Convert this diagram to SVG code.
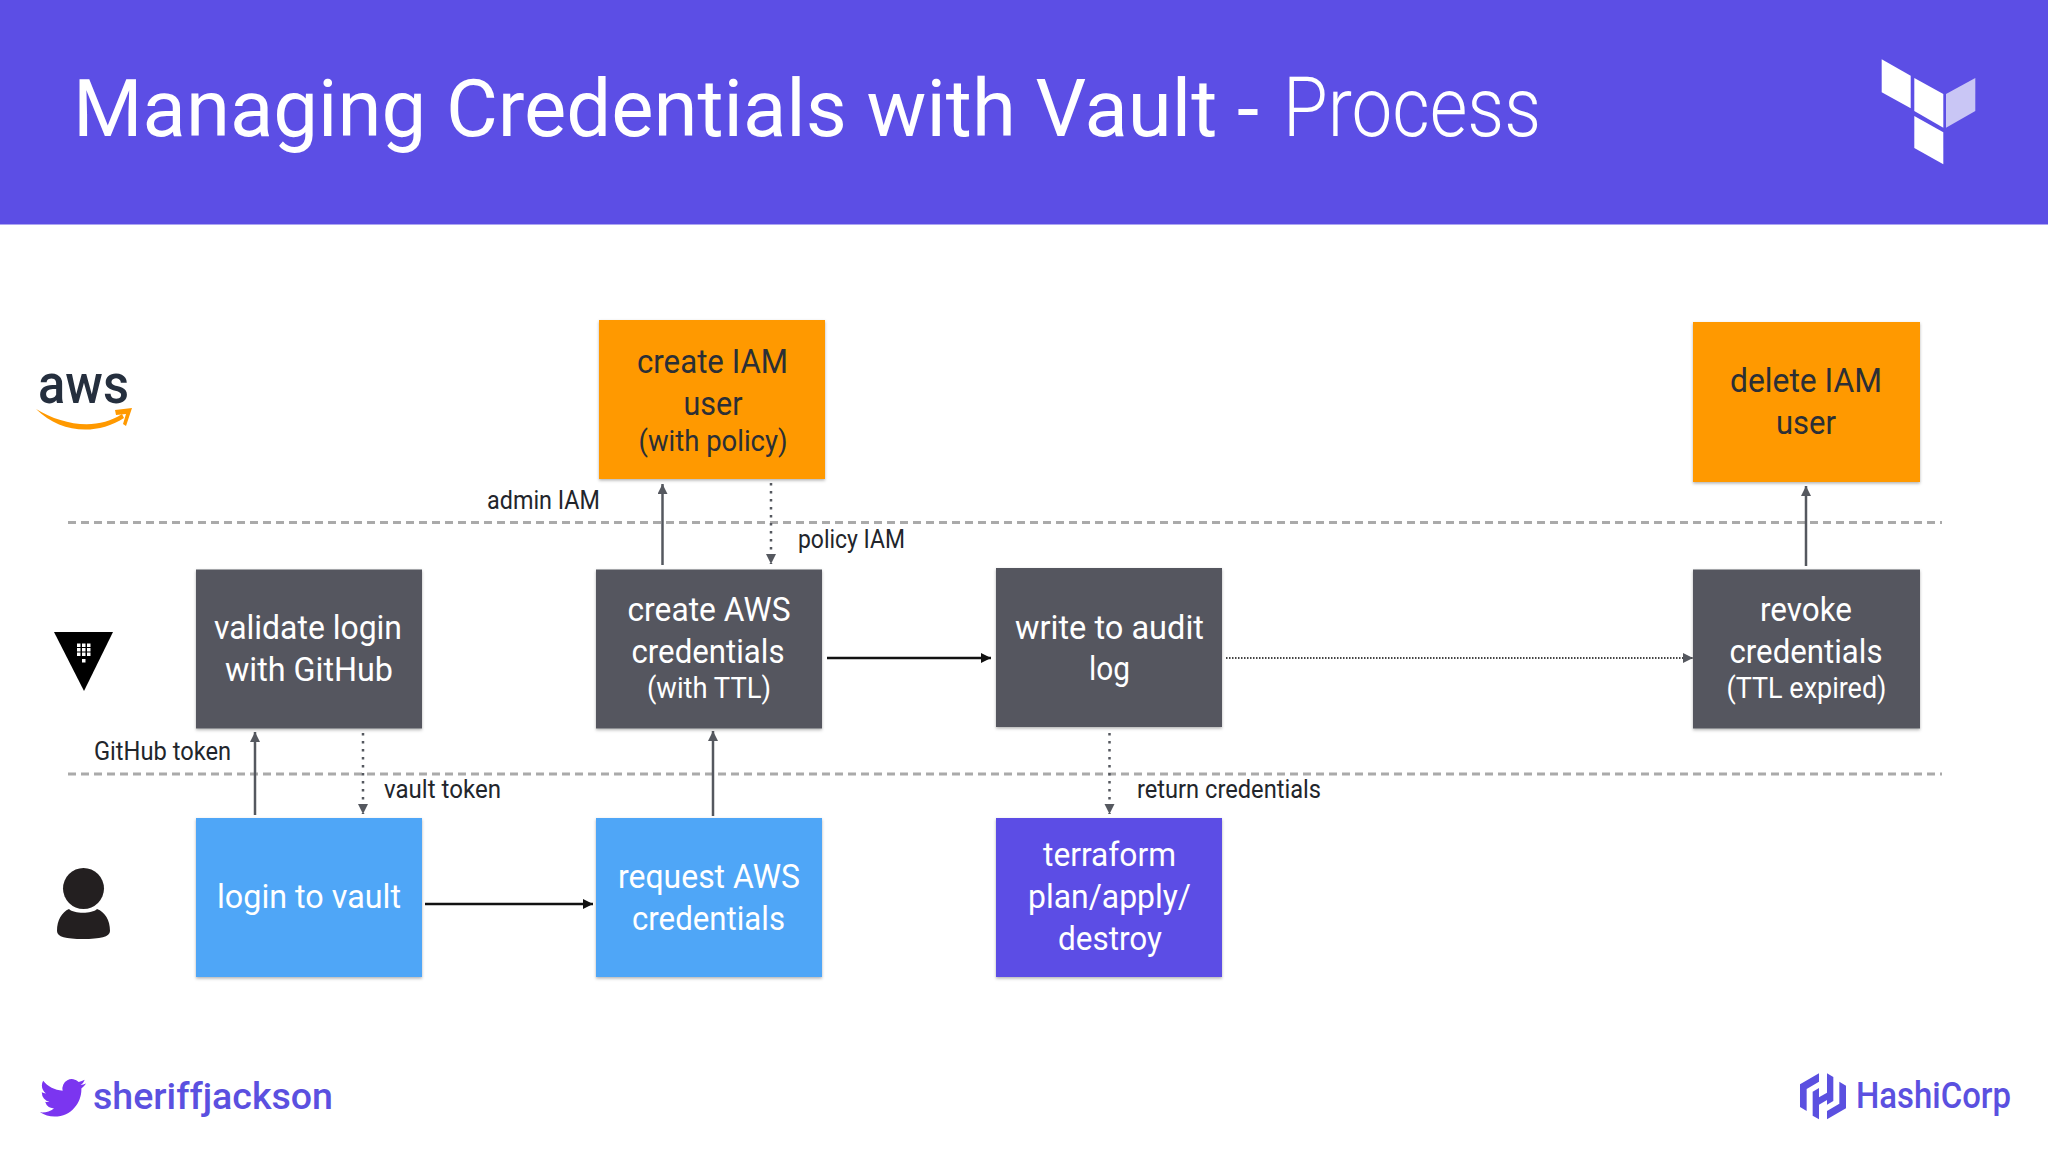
<svg xmlns="http://www.w3.org/2000/svg" width="2048" height="1152" viewBox="0 0 2048 1152">
<style>
text{font-family:"Roboto","Liberation Sans",sans-serif}
.box{filter:url(#sh)}
.t{font-size:33px;fill:#fff;text-anchor:middle;font-weight:400}
.o{fill:#2b2f36;font-weight:400}
.s{font-size:29px}
.lab{font-size:25px;fill:#22252b;font-weight:400}
.sep{stroke:#aaa;stroke-width:3;stroke-dasharray:8 5;fill:none}
.c{stroke:#55585f;stroke-width:2.5;fill:none}
.d{stroke-dasharray:2.5 5.5}
.h{stroke:#111;stroke-width:2.5;fill:none}
.f{stroke:#444;stroke-width:2;stroke-dasharray:1.5 1.5;fill:none}
</style>
<defs>
<filter id="sh" x="-5%" y="-5%" width="110%" height="110%"><feDropShadow dx="0" dy="1.5" stdDeviation="1.5" flood-color="#000" flood-opacity=".3"/></filter>
<marker id="ag" markerUnits="userSpaceOnUse" markerWidth="12" markerHeight="12" refX="10" refY="5" orient="auto"><path d="M0 0L10 5L0 10Z" fill="#55585f"/></marker>
<marker id="ak" markerUnits="userSpaceOnUse" markerWidth="12" markerHeight="12" refX="10" refY="5" orient="auto"><path d="M0 0L10 5L0 10Z" fill="#111"/></marker>
</defs>
<rect width="2048" height="1152" fill="#fff"/>
<rect width="2048" height="224.500" fill="#5c4ee5"/>
<text x="73" y="136" font-size="80" fill="#fff" textLength="1186" lengthAdjust="spacingAndGlyphs">Managing Credentials with Vault -</text>
<text x="1283" y="136" font-size="84" font-weight="300" fill="#fff" textLength="258" lengthAdjust="spacingAndGlyphs">Process</text>
<g id="terraform-logo">
<polygon points="1881.700,59.300 1910.700,75.700 1910.700,108.300 1881.700,92.300" fill="#fff"/>
<polygon points="1914.300,78 1943.300,94 1943.300,127.700 1914.300,111" fill="#fff"/>
<polygon points="1946,94 1975.300,78 1975.300,111 1946,127.700" fill="#c9c6f5"/>
<polygon points="1914.300,116 1943.300,132.300 1943.300,164.300 1914.300,148" fill="#fff"/>
</g>
<g id="separators">
<line class="sep" x1="68" y1="522.500" x2="1942" y2="522.500"/>
<line class="sep" x1="68" y1="774" x2="1942" y2="774"/>
</g>
<g id="connectors">
<line class="c" x1="662.500" y1="565" x2="662.500" y2="484" marker-end="url(#ag)"/>
<line class="c d" x1="771" y1="483" x2="771" y2="564" marker-end="url(#ag)"/>
<line class="c" x1="255" y1="815" x2="255" y2="732" marker-end="url(#ag)"/>
<line class="c d" x1="363" y1="733" x2="363" y2="814" marker-end="url(#ag)"/>
<line class="c" x1="713" y1="816" x2="713" y2="731" marker-end="url(#ag)"/>
<line class="c d" x1="1109.500" y1="733" x2="1109.500" y2="814" marker-end="url(#ag)"/>
<line class="c" x1="1806" y1="566" x2="1806" y2="486" marker-end="url(#ag)"/>
<line class="h" x1="827" y1="658" x2="991" y2="658" marker-end="url(#ak)"/>
<line class="f" x1="1226" y1="658" x2="1693" y2="658" marker-end="url(#ag)"/>
<line class="h" x1="425" y1="904" x2="593" y2="904" marker-end="url(#ak)"/>
</g>
<g id="labels">
<text class="lab" x="487" y="509" textLength="113" lengthAdjust="spacingAndGlyphs">admin IAM</text>
<text class="lab" x="798" y="548" textLength="107" lengthAdjust="spacingAndGlyphs">policy IAM</text>
<text class="lab" x="94" y="760" textLength="137" lengthAdjust="spacingAndGlyphs">GitHub token</text>
<text class="lab" x="384" y="798" textLength="117" lengthAdjust="spacingAndGlyphs">vault token</text>
<text class="lab" x="1137" y="798" textLength="184" lengthAdjust="spacingAndGlyphs">return credentials</text>
</g>
<g id="create-iam-user">
<rect class="box" x="599" y="320" width="226" height="159" fill="#ff9900"/>
<text class="t o" x="712.500" y="373" textLength="151" lengthAdjust="spacingAndGlyphs">create IAM</text>
<text class="t o" x="713" y="415" textLength="59" lengthAdjust="spacingAndGlyphs">user</text>
<text class="t o s" x="713" y="451" textLength="149" lengthAdjust="spacingAndGlyphs">(with policy)</text>
</g>
<g id="delete-iam-user">
<rect class="box" x="1693" y="322" width="227" height="160" fill="#ff9900"/>
<text class="t o" x="1806" y="392" textLength="152" lengthAdjust="spacingAndGlyphs">delete IAM</text>
<text class="t o" x="1806" y="434" textLength="60" lengthAdjust="spacingAndGlyphs">user</text>
</g>
<g id="validate-login">
<rect class="box" x="196" y="569.500" width="226" height="159" fill="#54565e"/>
<text class="t" x="308" y="639" textLength="188" lengthAdjust="spacingAndGlyphs">validate login</text>
<text class="t" x="309" y="681" textLength="168" lengthAdjust="spacingAndGlyphs">with GitHub</text>
</g>
<g id="create-aws-credentials">
<rect class="box" x="596" y="569.500" width="226" height="159" fill="#54565e"/>
<text class="t" x="709" y="621" textLength="163" lengthAdjust="spacingAndGlyphs">create AWS</text>
<text class="t" x="708" y="663" textLength="153" lengthAdjust="spacingAndGlyphs">credentials</text>
<text class="t s" x="709" y="698" textLength="124" lengthAdjust="spacingAndGlyphs">(with TTL)</text>
</g>
<g id="write-audit-log">
<rect class="box" x="996" y="568" width="226" height="159" fill="#54565e"/>
<text class="t" x="1109.500" y="639" textLength="189" lengthAdjust="spacingAndGlyphs">write to audit</text>
<text class="t" x="1109.500" y="680" textLength="41" lengthAdjust="spacingAndGlyphs">log</text>
</g>
<g id="revoke-credentials">
<rect class="box" x="1693" y="569.500" width="227" height="159" fill="#54565e"/>
<text class="t" x="1806" y="621" textLength="92" lengthAdjust="spacingAndGlyphs">revoke</text>
<text class="t" x="1806" y="663" textLength="153" lengthAdjust="spacingAndGlyphs">credentials</text>
<text class="t s" x="1806.500" y="698" textLength="160" lengthAdjust="spacingAndGlyphs">(TTL expired)</text>
</g>
<g id="login-to-vault">
<rect class="box" x="196" y="818" width="226" height="159" fill="#4fa6f7"/>
<text class="t" x="309" y="908" textLength="184" lengthAdjust="spacingAndGlyphs">login to vault</text>
</g>
<g id="request-aws-credentials">
<rect class="box" x="596" y="818" width="226" height="159" fill="#4fa6f7"/>
<text class="t" x="709" y="888" textLength="182" lengthAdjust="spacingAndGlyphs">request AWS</text>
<text class="t" x="708.500" y="930" textLength="153" lengthAdjust="spacingAndGlyphs">credentials</text>
</g>
<g id="terraform-plan">
<rect class="box" x="996" y="818" width="226" height="159" fill="#5c4ee5"/>
<text class="t" x="1109.500" y="866" textLength="133" lengthAdjust="spacingAndGlyphs">terraform</text>
<text class="t" x="1109.500" y="908" textLength="163" lengthAdjust="spacingAndGlyphs">plan/apply/</text>
<text class="t" x="1110" y="950" textLength="104" lengthAdjust="spacingAndGlyphs">destroy</text>
</g>
<g id="aws-logo">
<text x="38" y="403" font-size="56" font-weight="500" fill="#252f3e" textLength="91" lengthAdjust="spacingAndGlyphs">aws</text>
<path d="M36 409C62 425 97 431 122 414L124 418C96 436 60 433 36 409Z" fill="#ff9900"/>
<path d="M115 410L132 408L126 426L123 424L126 414L116 415Z" fill="#ff9900"/>
</g>
<g id="vault-logo">
<polygon points="54,632 113,632 84,691" fill="#000"/>
<g fill="#fff">
<rect x="77" y="643.500" width="3.500" height="3.500"/><rect x="82" y="643.500" width="3.500" height="3.500"/><rect x="87" y="643.500" width="3.500" height="3.500"/>
<rect x="77" y="648" width="3.500" height="3.500"/><rect x="82" y="648" width="3.500" height="3.500"/><rect x="87" y="648" width="3.500" height="3.500"/>
<rect x="77" y="652.500" width="3.500" height="3.500"/><rect x="82" y="652.500" width="3.500" height="3.500"/><rect x="87" y="652.500" width="3.500" height="3.500"/>
<rect x="82" y="659" width="3.500" height="3.500"/>
</g>
</g>
<g id="user-icon" fill="#231f20">
<circle cx="83.500" cy="888.500" r="20.500"/>
<path d="M69 909C74 914 92 914 97 909C105 912 110 920 110 931C110 937 100 939 83 939C66 939 57 937 57 931C57 920 62 912 69 909Z"/>
</g>
<g id="twitter-handle">
<path transform="translate(40 1074.800) scale(1.920)" fill="#7b35f0" d="M23.953 4.570a10 10 0 01-2.825.775 4.958 4.958 0 002.163-2.723c-.951.555-2.005.959-3.127 1.184a4.920 4.920 0 00-8.384 4.482C7.690 8.095 4.067 6.130 1.640 3.162a4.822 4.822 0 00-.666 2.475c0 1.710.870 3.213 2.188 4.096a4.904 4.904 0 01-2.228-.616v.060a4.923 4.923 0 003.946 4.827 4.996 4.996 0 01-2.212.085 4.936 4.936 0 004.604 3.417 9.867 9.867 0 01-6.102 2.105c-.390 0-.779-.023-1.170-.067a13.995 13.995 0 007.557 2.209c9.053 0 13.998-7.496 13.998-13.985 0-.210 0-.420-.015-.630A9.935 9.935 0 0024 4.590z"/>
<text x="93" y="1109" font-size="37" font-weight="500" fill="#5b50e0" textLength="240" lengthAdjust="spacingAndGlyphs">sheriffjackson</text>
</g>
<g id="hashicorp-logo">
<g transform="translate(1780 1060) scale(.3333)" fill="#5b50e0">
<polygon points="60,73 117,40 117,65 80,87 80,153 60,141"/>
<polygon points="98,95 117,84 117,178 98,167"/>
<polygon points="117,112 141,98 141,120 117,134"/>
<polygon points="141,40 160,51 160,123 141,134"/>
<polygon points="198,145 141,178 141,153 178,131 178,65 198,77"/>
</g>
<text x="1856" y="1108" font-size="37" font-weight="500" fill="#5b50e0" textLength="155" lengthAdjust="spacingAndGlyphs">HashiCorp</text>
</g>
</svg>
